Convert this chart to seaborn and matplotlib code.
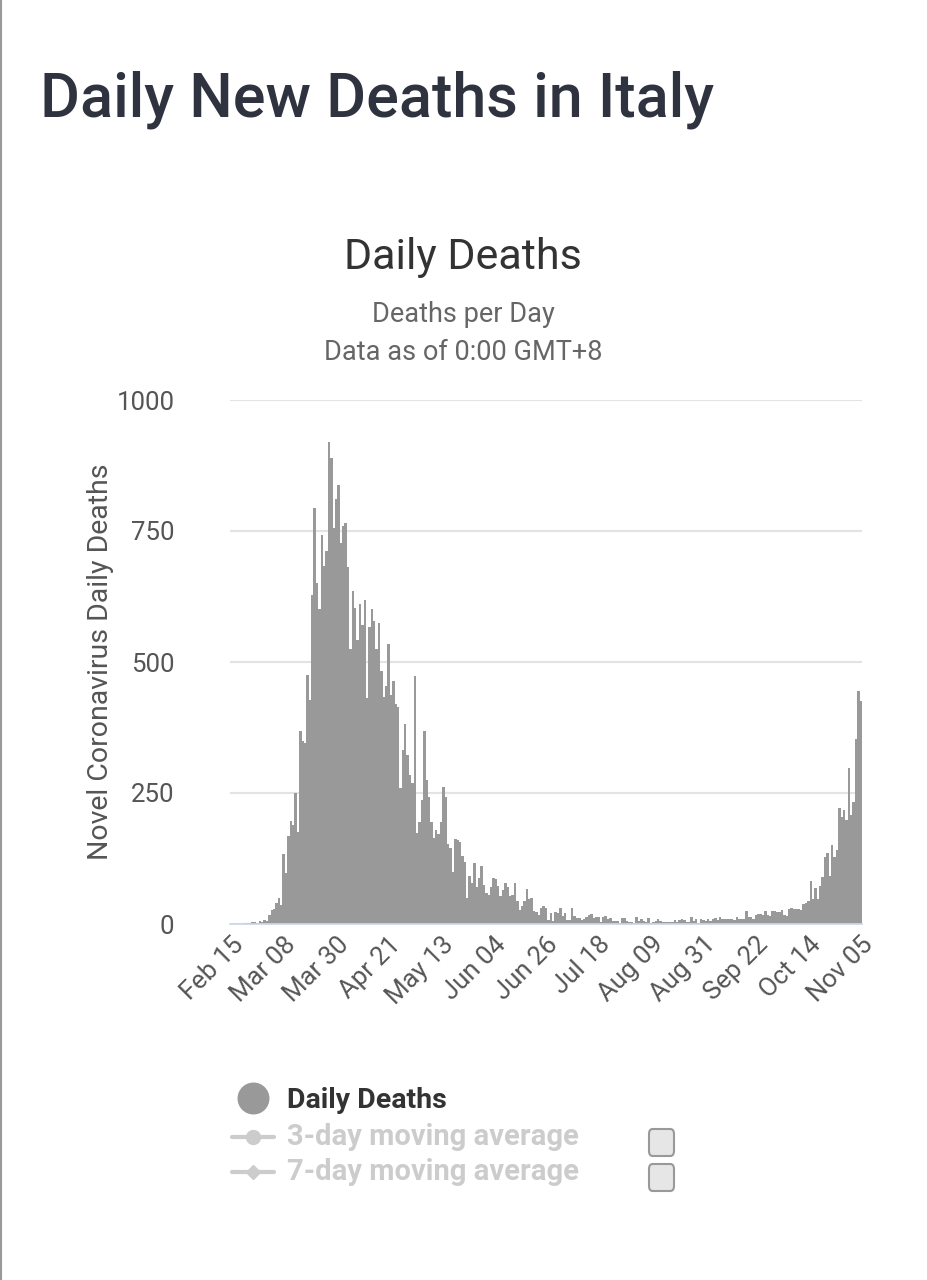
import numpy as np
import pandas as pd
import matplotlib
matplotlib.use("Agg")
import matplotlib.pyplot as plt
import seaborn as sns
from matplotlib.lines import Line2D
from matplotlib.patches import FancyBboxPatch

start_date = "2020-02-15"
deaths = [0,0,0,0,0,0,1,1,1,4,3,2,5,4,8,5,18,27,28,41,49,36,133,97,168,196,189,250,175,368,349,345,475,427,627,793,651,601,743,683,712,919,889,756,812,837,727,760,766,681,525,636,604,542,610,570,619,431,566,602,578,525,575,482,433,454,534,437,464,420,415,260,333,382,323,285,269,474,174,195,236,369,274,243,194,165,179,172,195,262,242,153,145,99,162,161,156,130,119,50,92,78,117,70,87,111,75,60,55,71,88,85,72,53,65,79,71,53,56,78,44,26,34,43,66,47,49,24,23,18,30,34,30,8,21,6,23,21,30,15,21,7,8,30,15,12,12,7,9,13,17,20,11,13,13,3,13,15,9,11,5,5,5,2,11,11,6,3,3,2,13,5,10,6,3,12,2,4,6,10,6,3,3,4,4,4,7,3,7,9,7,4,4,13,5,9,1,9,7,6,10,6,10,11,7,14,10,10,10,10,10,7,14,9,10,9,24,14,14,9,17,20,19,17,24,17,15,24,24,23,22,27,18,16,28,31,28,28,29,26,39,41,43,83,47,69,47,73,89,127,136,91,151,128,141,221,205,217,199,297,208,233,353,445,425]
tick_labels = ["Feb 15","Mar 08","Mar 30","Apr 21","May 13","Jun 04","Jun 26","Jul 18","Aug 09","Aug 31","Sep 22","Oct 14","Nov 05"]
y_ticks = [0, 250, 500, 750, 1000]

df = pd.DataFrame({"day": np.arange(len(deaths)), "deaths": deaths})

sns.set_theme(style="white")
plt.rcParams['font.family'] = ['Roboto', 'DejaVu Sans']

fig = plt.figure(figsize=(9.27, 12.8), dpi=100)
W, H = 927, 1280
ax = fig.add_axes([230/W, 1-924/H, (862-230)/W, (924-400)/H])

sns.barplot(data=df, x="day", y="deaths", color="#999999", width=1.0,
            saturation=1, edgecolor="none", linewidth=0, ax=ax)
ax.set_xlim(-0.5, len(deaths)-0.5)
ax.set_ylim(0, 1000)
ax.set_yticks(y_ticks)
ax.set_yticklabels([str(v) for v in y_ticks], fontsize=18.5, color="#555555")
ax.yaxis.grid(True, color="#e3e3e3", linewidth=1.5)
ax.set_axisbelow(True)
for s in ["top", "right", "left"]:
    ax.spines[s].set_visible(False)
ax.spines["bottom"].set_color("#ccd6eb")
ax.tick_params(axis="y", length=0, pad=40)
ax.set_xticks(np.arange(0, len(deaths), 22))
ax.set_xticklabels(tick_labels, rotation=45, ha="right", rotation_mode="anchor",
                   fontsize=18.5, color="#555555")
ax.tick_params(axis="x", length=0, pad=6)
ax.set_xlabel("")
ax.set_ylabel("Novel Coronavirus Daily Deaths", fontsize=20.5, color="#555555", labelpad=2)

fig.text(40/W, 1-100/H, "Daily New Deaths in Italy", fontsize=44, fontweight="medium",
         color="#2f3340", va="center", ha="left")
fig.text(463/W, 1-257/H, "Daily Deaths", fontsize=31, color="#333333", ha="center", va="center")
fig.text(463/W, 1-315/H, "Deaths per Day", fontsize=19.5, color="#666666", ha="center", va="center")
fig.text(463/W, 1-352/H, "Data as of 0:00 GMT+8", fontsize=19.5, color="#666666", ha="center", va="center")

fig.add_artist(Line2D([1/W, 1/W], [0, 1], color="#999999", linewidth=1.5))

fig.add_artist(Line2D([253/W], [1-1098/H], marker="o", markersize=22, color="#999999", linestyle="none"))
fig.text(287/W, 1-1100/H, "Daily Deaths", fontsize=20.5, fontweight="bold", color="#333333", va="center")
for yy, mk, lab in [(1137, "o", "3-day moving average"), (1172, "D", "7-day moving average")]:
    fig.add_artist(Line2D([232/W, 274/W], [1-yy/H, 1-yy/H], color="#cccccc", linewidth=3))
    fig.add_artist(Line2D([253/W], [1-yy/H], marker=mk, markersize=10 if mk == "o" else 7,
                          color="#cccccc", linestyle="none"))
    fig.text(287/W, 1-yy/H, lab, fontsize=21, fontweight="bold", color="#cccccc", va="center")
    fig.add_artist(FancyBboxPatch((649/W, 1-(yy+19)/H), 25/W, 27/H,
                                  boxstyle="round,pad=0,rounding_size=0.004",
                                  transform=fig.transFigure, facecolor="#e6e6e6",
                                  edgecolor="#999999", linewidth=1.5))

fig.savefig("out.png", dpi=100)
